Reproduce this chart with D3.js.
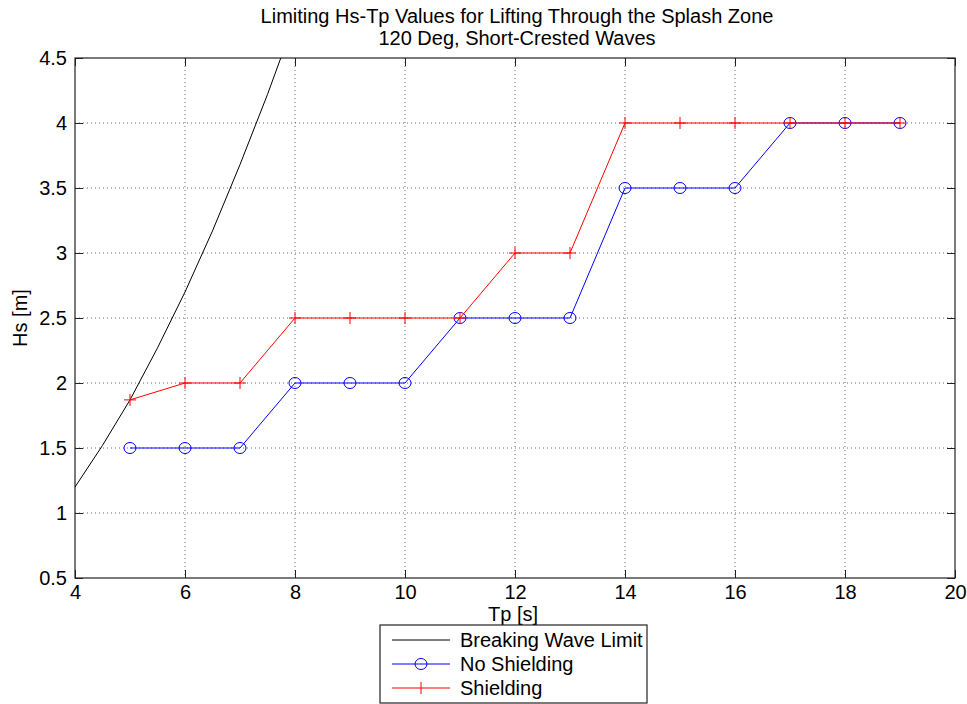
<!DOCTYPE html>
<html>
<head>
<meta charset="utf-8">
<script src="https://cdn.jsdelivr.net/npm/d3@7"></script>
<style>
  html, body { margin: 0; padding: 0; background: #fff; }
  svg { display: block; font-family: "Liberation Sans", Arial, sans-serif; }
</style>
</head>
<body>
<svg id="chart" width="967" height="704"></svg>
<script>
// Wave period values (s)
const tpValues = [5, 6, 7, 8, 9, 10, 11, 12, 13, 14, 15, 16, 17, 18, 19];
// Limiting Hs without shielding (m)
const hsNoShielding = [1.5, 1.5, 1.5, 2, 2, 2, 2.5, 2.5, 2.5, 3.5, 3.5, 3.5, 4, 4, 4];
// Limiting Hs with shielding (m)
const hsShielding = [1.87, 2, 2, 2.5, 2.5, 2.5, 2.5, 3, 3, 4, 4, 4, 4, 4, 4];
// Breaking wave limit curve
const breakingTp = [4, 4.5, 5, 5.5, 6, 6.5, 7, 7.5, 8];
const breakingHs = [1.2, 1.52, 1.87, 2.27, 2.7, 3.17, 3.68, 4.22, 4.8];

const xTicks = [4, 6, 8, 10, 12, 14, 16, 18, 20];
const yTicks = [0.5, 1, 1.5, 2, 2.5, 3, 3.5, 4, 4.5];

const titleLines = ["Limiting Hs-Tp Values for Lifting Through the Splash Zone",
                    "120 Deg, Short-Crested Waves"];
const legendLabels = ["Breaking Wave Limit", "No Shielding", "Shielding"];

const margin = { left: 75, top: 58, right: 12, bottom: 126 };
const W = 967, H = 704;
const pw = W - margin.left - margin.right;
const ph = H - margin.top - margin.bottom;
const FS = 20;

const svg = d3.select("#chart");
const g = svg.append("g").attr("transform", `translate(${margin.left},${margin.top})`);

const x = d3.scaleLinear().domain([4, 20]).range([0, pw]);
const y = d3.scaleLinear().domain([0.5, 4.5]).range([ph, 0]);

svg.append("defs").append("clipPath").attr("id", "plotclip")
  .append("rect").attr("width", pw).attr("height", ph);

// Dotted grid
g.append("g").selectAll("line").data(xTicks.slice(1, -1)).join("line")
  .attr("x1", d => x(d)).attr("x2", d => x(d))
  .attr("y1", 0).attr("y2", ph)
  .attr("stroke", "#444").attr("stroke-width", 0.8).attr("stroke-dasharray", "1,3");
g.append("g").selectAll("line").data(yTicks.slice(1, -1)).join("line")
  .attr("y1", d => y(d)).attr("y2", d => y(d))
  .attr("x1", 0).attr("x2", pw)
  .attr("stroke", "#444").attr("stroke-width", 0.8).attr("stroke-dasharray", "1,3");

// Axes with inward ticks on all sides
const tickStyle = sel => {
  sel.select(".domain").remove();
  sel.selectAll(".tick line").attr("stroke", "#222");
  sel.selectAll(".tick text").attr("fill", "#000").attr("font-size", FS)
     .attr("font-family", "Liberation Sans, Arial, sans-serif");
};
g.append("g").attr("transform", `translate(0,${ph})`)
  .call(d3.axisBottom(x).tickValues(xTicks).tickSize(-8).tickPadding(7).tickFormat(d3.format("d")))
  .call(tickStyle);
g.append("g")
  .call(d3.axisTop(x).tickValues(xTicks).tickSize(-8).tickFormat(""))
  .call(tickStyle);
g.append("g")
  .call(d3.axisLeft(y).tickValues(yTicks).tickSize(-8).tickPadding(8).tickFormat(d => String(d)))
  .call(tickStyle);
g.append("g").attr("transform", `translate(${pw},0)`)
  .call(d3.axisRight(y).tickValues(yTicks).tickSize(-8).tickFormat(""))
  .call(tickStyle);

// Plot frame
g.append("rect").attr("width", pw).attr("height", ph)
  .attr("fill", "none").attr("stroke", "#222").attr("stroke-width", 1.2);

const lineGen = d3.line().x(d => x(d[0])).y(d => y(d[1]));

// Breaking wave limit
g.append("path")
  .datum(d3.zip(breakingTp, breakingHs))
  .attr("clip-path", "url(#plotclip)")
  .attr("d", lineGen)
  .attr("fill", "none").attr("stroke", "#000").attr("stroke-width", 1);

// No shielding series
const blue = "#0000ff", red = "#ff0000";
const noShield = d3.zip(tpValues, hsNoShielding);
g.append("path").datum(noShield).attr("d", lineGen)
  .attr("fill", "none").attr("stroke", blue).attr("stroke-width", 1);
g.append("g").selectAll("ellipse").data(noShield).join("ellipse")
  .attr("cx", d => x(d[0])).attr("cy", d => y(d[1]))
  .attr("rx", 6).attr("ry", 5.5)
  .attr("fill", "none").attr("stroke", blue).attr("stroke-width", 1);

// Shielding series
const shield = d3.zip(tpValues, hsShielding);
g.append("path").datum(shield).attr("d", lineGen)
  .attr("fill", "none").attr("stroke", red).attr("stroke-width", 1);
const plus = g.append("g").selectAll("g").data(shield).join("g")
  .attr("transform", d => `translate(${x(d[0])},${y(d[1])})`);
plus.append("line").attr("x1", -6).attr("x2", 6).attr("stroke", red).attr("stroke-width", 1);
plus.append("line").attr("y1", -6).attr("y2", 6).attr("stroke", red).attr("stroke-width", 1);

// Title
svg.append("g").selectAll("text").data(titleLines).join("text")
  .attr("x", margin.left + pw / 2 + 2).attr("y", (d, i) => 23 + i * 22)
  .attr("text-anchor", "middle").attr("font-size", FS).attr("fill", "#000")
  .text(d => d);

// Axis labels
svg.append("text").attr("x", margin.left + pw / 2 - 2).attr("y", 621)
  .attr("text-anchor", "middle").attr("font-size", FS).text("Tp [s]");
svg.append("text")
  .attr("transform", `translate(27,${margin.top + ph / 2}) rotate(-90)`)
  .attr("text-anchor", "middle").attr("font-size", FS).text("Hs [m]");

// Legend
const lg = svg.append("g").attr("transform", "translate(380,625)");
lg.append("rect").attr("width", 267).attr("height", 78)
  .attr("fill", "#fff").attr("stroke", "#222").attr("stroke-width", 1.2);
const rows = lg.selectAll("g.row").data(legendLabels).join("g")
  .attr("class", "row")
  .attr("transform", (d, i) => `translate(0,${15 + i * 24})`);
rows.append("line").attr("x1", 12).attr("x2", 70)
  .attr("stroke", (d, i) => ["#000", blue, red][i]).attr("stroke-width", 1);
rows.filter((d, i) => i === 1).append("ellipse")
  .attr("cx", 41).attr("rx", 6).attr("ry", 5.5)
  .attr("fill", "none").attr("stroke", blue);
rows.filter((d, i) => i === 2).append("line")
  .attr("x1", 41).attr("x2", 41).attr("y1", -6).attr("y2", 6).attr("stroke", red);
rows.append("text").attr("x", 80).attr("y", 7).attr("font-size", FS).text(d => d);
</script>
</body>
</html>
